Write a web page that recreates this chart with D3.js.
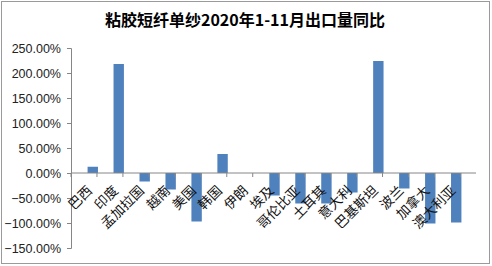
<!DOCTYPE html>
<html>
<head>
<meta charset="utf-8">
<script src="https://cdn.jsdelivr.net/npm/d3@7"></script>
<style>
  body { margin: 0; background: #fff; }
  svg { display: block; }
</style>
</head>
<body>
<svg id="chart"></svg>
<script>
const title = "粘胶短纤单纱2020年1-11月出口量同比";
const countries = ["巴西", "印度", "孟加拉国", "越南", "美国", "韩国", "伊朗", "埃及", "哥伦比亚", "土耳其", "意大利", "巴基斯坦", "波兰", "加拿大", "澳大利亚"];
const yoy = [12.5, 218, -17, -33, -97, 38, 0, -45, -61, -61, -39, 224, -31, -101, -99];
const yTicks = [-150, -100, -50, 0, 50, 100, 150, 200, 250];

const width = 492, height = 266;

const svg = d3.select("#chart").attr("width", width).attr("height", height);

// frame
svg.append("rect")
    .attr("x", 1.5).attr("y", 1.5)
    .attr("width", 488).attr("height", 262)
    .attr("fill", "#fff")
    .attr("stroke", "#9a9a9a");

svg.append("text")
    .attr("x", 245).attr("y", 26)
    .attr("text-anchor", "middle")
    .attr("font-family", "'Noto Sans CJK SC', sans-serif")
    .attr("font-weight", "bold")
    .attr("font-size", 16)
    .text(title);

const x = d3.scaleBand().domain(countries).range([71, 476]).padding(0.6);
const y = d3.scaleLinear().domain([-150, 250]).range([248, 48]);

const yAxis = svg.append("g")
    .attr("transform", "translate(71,0)")
    .call(d3.axisLeft(y).tickValues(yTicks).tickSize(4).tickPadding(6)
        .tickFormat(d => d3.format(".2f")(d) + "%"));
yAxis.selectAll("text")
    .attr("font-family", "'Liberation Sans', Arial, sans-serif")
    .attr("font-size", 12.5)
    .attr("fill", "#222");
yAxis.selectAll("line, path").attr("stroke", "#868686");

// bars
svg.append("g").selectAll("rect")
    .data(countries)
    .join("rect")
    .attr("x", d => x(d) + 1)
    .attr("width", x.bandwidth())
    .attr("y", (d, i) => y(Math.max(0, yoy[i])))
    .attr("height", (d, i) => Math.abs(y(yoy[i]) - y(0)))
    .attr("fill", "#4f81bd");

// zero axis with ticks between categories
const step = x.step();
const bounds = d3.range(countries.length + 1).map(i => 71 + i * step);
const xAxis = svg.append("g");
xAxis.append("line")
    .attr("x1", 71).attr("x2", 476)
    .attr("y1", y(0)).attr("y2", y(0))
    .attr("stroke", "#868686");
xAxis.selectAll(".tk")
    .data(bounds)
    .join("line")
    .attr("class", "tk")
    .attr("x1", d => d).attr("x2", d => d)
    .attr("y1", y(0)).attr("y2", y(0) + 4)
    .attr("stroke", "#868686");

// rotated category labels
svg.append("g").selectAll("text")
    .data(countries)
    .join("text")
    .attr("transform", d => `translate(${x(d) + x.bandwidth() / 2 - 2},${y(0) + 15}) rotate(-45)`)
    .attr("text-anchor", "end")
    .attr("dy", "0.35em")
    .attr("font-family", "'Noto Sans CJK SC', sans-serif")
    .attr("font-size", 13.5)
    .attr("fill", "#111")
    .text(d => d);
</script>
</body>
</html>
